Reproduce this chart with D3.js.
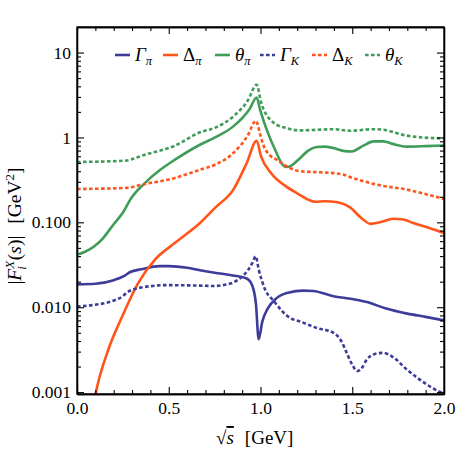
<!DOCTYPE html>
<html><head><meta charset="utf-8">
<script src="https://cdn.jsdelivr.net/npm/d3@7"></script>
<style>
body{margin:0;background:#fff;}
</style></head>
<body><svg id="c" width="476" height="451"></svg>
<script>
// ---- data ----
const gammaPiS = [0, 0.1, 0.2, 0.255, 0.29, 0.35, 0.45, 0.5, 0.6, 0.67, 0.75, 0.85, 0.925, 0.955, 0.975, 0.99, 1.01, 1.04, 1.088, 1.15, 1.233, 1.288, 1.397, 1.5, 1.58, 1.68, 1.8, 1.9, 2.0];
const gammaPiV = [0.0186, 0.0189, 0.0208, 0.0232, 0.026, 0.028, 0.0305, 0.0305, 0.0292, 0.0273, 0.0255, 0.0237, 0.0218, 0.018, 0.011, 0.0042, 0.0068, 0.0097, 0.0128, 0.0148, 0.0157, 0.0155, 0.0135, 0.0125, 0.0115, 0.0097, 0.0084, 0.0077, 0.0070];

const deltaPiS = [0.09, 0.1, 0.171, 0.243, 0.334, 0.425, 0.534, 0.67, 0.752, 0.852, 0.925, 0.979, 1.003, 1.057, 1.139, 1.2, 1.297, 1.35, 1.42, 1.488, 1.55, 1.6, 1.65, 1.724, 1.78, 1.833, 1.92, 2.0];
const deltaPiV = [0.0007, 0.00092, 0.00318, 0.0075, 0.0194, 0.0364, 0.0573, 0.098, 0.148, 0.243, 0.5, 0.915, 0.598, 0.381, 0.265, 0.22, 0.175, 0.177, 0.172, 0.15, 0.112, 0.096, 0.1, 0.11, 0.108, 0.098, 0.086, 0.075];

const thetaPiS = [0, 0.044, 0.135, 0.2, 0.255, 0.29, 0.37, 0.45, 0.534, 0.67, 0.752, 0.852, 0.94, 0.979, 0.998, 1.079, 1.13, 1.14, 1.17, 1.215, 1.26, 1.306, 1.35, 1.397, 1.46, 1.497, 1.56, 1.615, 1.67, 1.72, 1.797, 1.9, 2.0];
const thetaPiV = [0.0417, 0.045, 0.0626, 0.095, 0.135, 0.185, 0.29, 0.41, 0.547, 0.82, 1.0, 1.35, 2.15, 2.95, 2.11, 0.72, 0.456, 0.449, 0.47, 0.57, 0.7, 0.77, 0.78, 0.75, 0.69, 0.684, 0.8, 0.9, 0.9, 0.84, 0.78, 0.79, 0.805];

const gammaKS = [0, 0.1, 0.21, 0.25, 0.27, 0.3, 0.33, 0.4, 0.48, 0.6, 0.75, 0.8, 0.85, 0.89, 0.93, 0.955, 0.974, 0.99, 1.025, 1.07, 1.16, 1.215, 1.306, 1.397, 1.44, 1.47, 1.5, 1.527, 1.55, 1.58, 1.62, 1.666, 1.72, 1.797, 1.85, 1.906, 1.96, 2.0];
const gammaKV = [0.0102, 0.0107, 0.0122, 0.0135, 0.0148, 0.016, 0.0167, 0.0177, 0.0182, 0.0181, 0.0178, 0.0183, 0.0195, 0.022, 0.027, 0.033, 0.0398, 0.028, 0.0162, 0.012, 0.0075, 0.0068, 0.0057, 0.005, 0.004, 0.0029, 0.0021, 0.00177, 0.0019, 0.00243, 0.0028, 0.0029, 0.0026, 0.00185, 0.0015, 0.00123, 0.00105, 0.00097];

const deltaKS = [0, 0.26, 0.37, 0.534, 0.67, 0.752, 0.852, 0.93, 0.975, 1.0, 1.015, 1.05, 1.088, 1.16, 1.215, 1.306, 1.4, 1.45, 1.5, 1.633, 1.797, 2.0];
const deltaKV = [0.247, 0.254, 0.283, 0.333, 0.417, 0.477, 0.655, 1.05, 1.57, 1.05, 0.82, 0.62, 0.547, 0.436, 0.4, 0.39, 0.38, 0.365, 0.335, 0.278, 0.243, 0.188];

const thetaKS = [0, 0.26, 0.37, 0.534, 0.67, 0.752, 0.852, 0.93, 0.979, 1.003, 1.07, 1.139, 1.215, 1.306, 1.397, 1.488, 1.615, 1.67, 1.797, 2.0];
const thetaKV = [0.514, 0.532, 0.626, 0.8, 1.15, 1.3, 1.77, 2.7, 4.17, 2.6, 1.5, 1.29, 1.21, 1.23, 1.25, 1.2, 1.25, 1.23, 1.05, 0.97];

const xTicks = [0, 0.5, 1.0, 1.5, 2.0];
const xTickLabels = ["0.0", "0.5", "1.0", "1.5", "2.0"];
const yTicks = [0.001, 0.01, 0.1, 1, 10];
const yTickLabels = ["0.001", "0.010", "0.100", "1", "10"];

// ---- styles ----
const FONT = "Liberation Serif";
const BLUE = "#3c3c9a", ORANGE = "#ff551a", GREEN = "#409c59";
const series = [
  {s: gammaPiS, v: gammaPiV, color: BLUE, dotted: false, name: "Γ", sub: "π", nameItalic: true},
  {s: deltaPiS, v: deltaPiV, color: ORANGE, dotted: false, name: "Δ", sub: "π", nameItalic: false},
  {s: thetaPiS, v: thetaPiV, color: GREEN, dotted: false, name: "θ", sub: "π", nameItalic: true},
  {s: gammaKS, v: gammaKV, color: BLUE, dotted: true, name: "Γ", sub: "K", nameItalic: true},
  {s: deltaKS, v: deltaKV, color: ORANGE, dotted: true, name: "Δ", sub: "K", nameItalic: false},
  {s: thetaKS, v: thetaKV, color: GREEN, dotted: true, name: "θ", sub: "K", nameItalic: true}
];

const L = 77, R = 444, T = 27, B = 394;
const x = d3.scaleLinear().domain([0, 2]).range([L, R]);
const y = d3.scaleLog().domain([0.00095, 20]).range([B, T]);

const svg = d3.select("#c").attr("font-family", FONT);
svg.append("defs").append("clipPath").attr("id", "clip")
  .append("rect").attr("x", L).attr("y", T).attr("width", R - L).attr("height", B - T);

const line = d3.line().x(d => x(d[0])).y(d => y(d[1])).curve(d3.curveMonotoneX);
const plot = svg.append("g").attr("clip-path", "url(#clip)");
series.forEach(sr => {
  const pts = sr.s.map((s, i) => [s, sr.v[i]]);
  plot.append("path").attr("d", line(pts)).attr("fill", "none")
    .attr("stroke", sr.color).attr("stroke-width", 2.6)
    .attr("stroke-dasharray", sr.dotted ? "3.6,2.4" : null)
    .attr("stroke-linejoin", "round");
});

// ---- axes / frame ----
const minorX = d3.range(0, 2.0001, 0.1).map(d => +d.toFixed(2)).filter(d => !xTicks.some(t => Math.abs(t - d) < 1e-6));
const minorY = [];
[0.001, 0.01, 0.1, 1, 10].forEach(dec => { for (let k = 2; k <= 9; k++) { const v = dec * k; if (v <= 20) minorY.push(v); } });

const fontSize = 17.5;
function styleAxis(g) {
  g.attr("font-family", FONT);
  g.selectAll("path.domain").attr("stroke", "#000").attr("stroke-width", 1.3);
  g.selectAll("line").attr("stroke", "#000").attr("stroke-width", 1.1);
  g.selectAll("text").attr("font-size", fontSize).attr("fill", "#000").attr("font-family", FONT);
}
// bottom
svg.append("g").attr("transform", `translate(0,${B})`)
  .call(d3.axisBottom(x).tickValues(xTicks).tickFormat((d, i) => xTickLabels[i]).tickSizeInner(-7).tickSizeOuter(0).tickPadding(8))
  .call(styleAxis).call(g => g.selectAll("text").attr("dy", "0.71em"));
svg.append("g").attr("transform", `translate(0,${B})`)
  .call(d3.axisBottom(x).tickValues(minorX).tickFormat("").tickSizeInner(-4).tickSizeOuter(0)).call(styleAxis);
// top
svg.append("g").attr("transform", `translate(0,${T})`)
  .call(d3.axisTop(x).tickValues(xTicks).tickFormat("").tickSizeInner(-7).tickSizeOuter(0)).call(styleAxis);
svg.append("g").attr("transform", `translate(0,${T})`)
  .call(d3.axisTop(x).tickValues(minorX).tickFormat("").tickSizeInner(-4).tickSizeOuter(0)).call(styleAxis);
// left
svg.append("g").attr("transform", `translate(${L},0)`)
  .call(d3.axisLeft(y).tickValues(yTicks).tickFormat((d, i) => yTickLabels[i]).tickSizeInner(-7).tickSizeOuter(0).tickPadding(6))
  .call(styleAxis);
svg.append("g").attr("transform", `translate(${L},0)`)
  .call(d3.axisLeft(y).tickValues(minorY).tickFormat("").tickSizeInner(-4).tickSizeOuter(0)).call(styleAxis);
// right
svg.append("g").attr("transform", `translate(${R},0)`)
  .call(d3.axisRight(y).tickValues(yTicks).tickFormat("").tickSizeInner(-7).tickSizeOuter(0)).call(styleAxis);
svg.append("g").attr("transform", `translate(${R},0)`)
  .call(d3.axisRight(y).tickValues(minorY).tickFormat("").tickSizeInner(-4).tickSizeOuter(0)).call(styleAxis);
// frame
svg.append("rect").attr("x", L).attr("y", T).attr("width", R - L).attr("height", B - T)
  .attr("fill", "none").attr("stroke", "#000").attr("stroke-width", 1.3);

// ---- legend ----
const legX = [115, 163, 215, 260, 312, 365];
const legY = 55;
const leg = svg.append("g");
series.forEach((sr, i) => {
  leg.append("line").attr("x1", legX[i]).attr("x2", legX[i] + 15).attr("y1", legY).attr("y2", legY)
    .attr("stroke", sr.color).attr("stroke-width", 2.6)
    .attr("stroke-dasharray", sr.dotted ? "3.6,2.4" : null);
  const t = leg.append("text").attr("x", legX[i] + 20).attr("y", legY + 6).attr("font-size", 19).attr("fill", "#000");
  t.append("tspan").attr("font-style", sr.nameItalic ? "italic" : "normal").text(sr.name);
  t.append("tspan").attr("font-style", "italic").attr("font-size", 12.5).attr("dy", 4).text(sr.sub);
});

// ---- axis titles ----
const xt = svg.append("text").attr("x", 216).attr("y", 444).attr("font-size", 19).attr("fill", "#000");
xt.append("tspan").text("√");
xt.append("tspan").attr("font-style", "italic").style("text-decoration", "overline").text("s");
xt.append("tspan").attr("dx", 11).text("[GeV]");

const yt = svg.append("text").attr("transform", "translate(21,226) rotate(-90)")
  .attr("text-anchor", "middle").attr("font-size", 19.5).attr("fill", "#000");
yt.append("tspan").text("|");
yt.append("tspan").attr("font-style", "italic").text("F");
yt.append("tspan").attr("font-style", "italic").attr("font-size", 13).attr("dy", -7).text("X");
yt.append("tspan").attr("font-style", "italic").attr("font-size", 13).attr("dx", -9).attr("dy", 12).text("i");
yt.append("tspan").attr("dy", -5).attr("dx", 6).text("(");
yt.append("tspan").attr("font-style", "italic").text("s");
yt.append("tspan").text(")|");
yt.append("tspan").attr("dx", 12).text("[GeV");
yt.append("tspan").attr("font-size", 13).attr("dy", -7).text("2");
yt.append("tspan").attr("dy", 7).text("]");
</script></body></html>
